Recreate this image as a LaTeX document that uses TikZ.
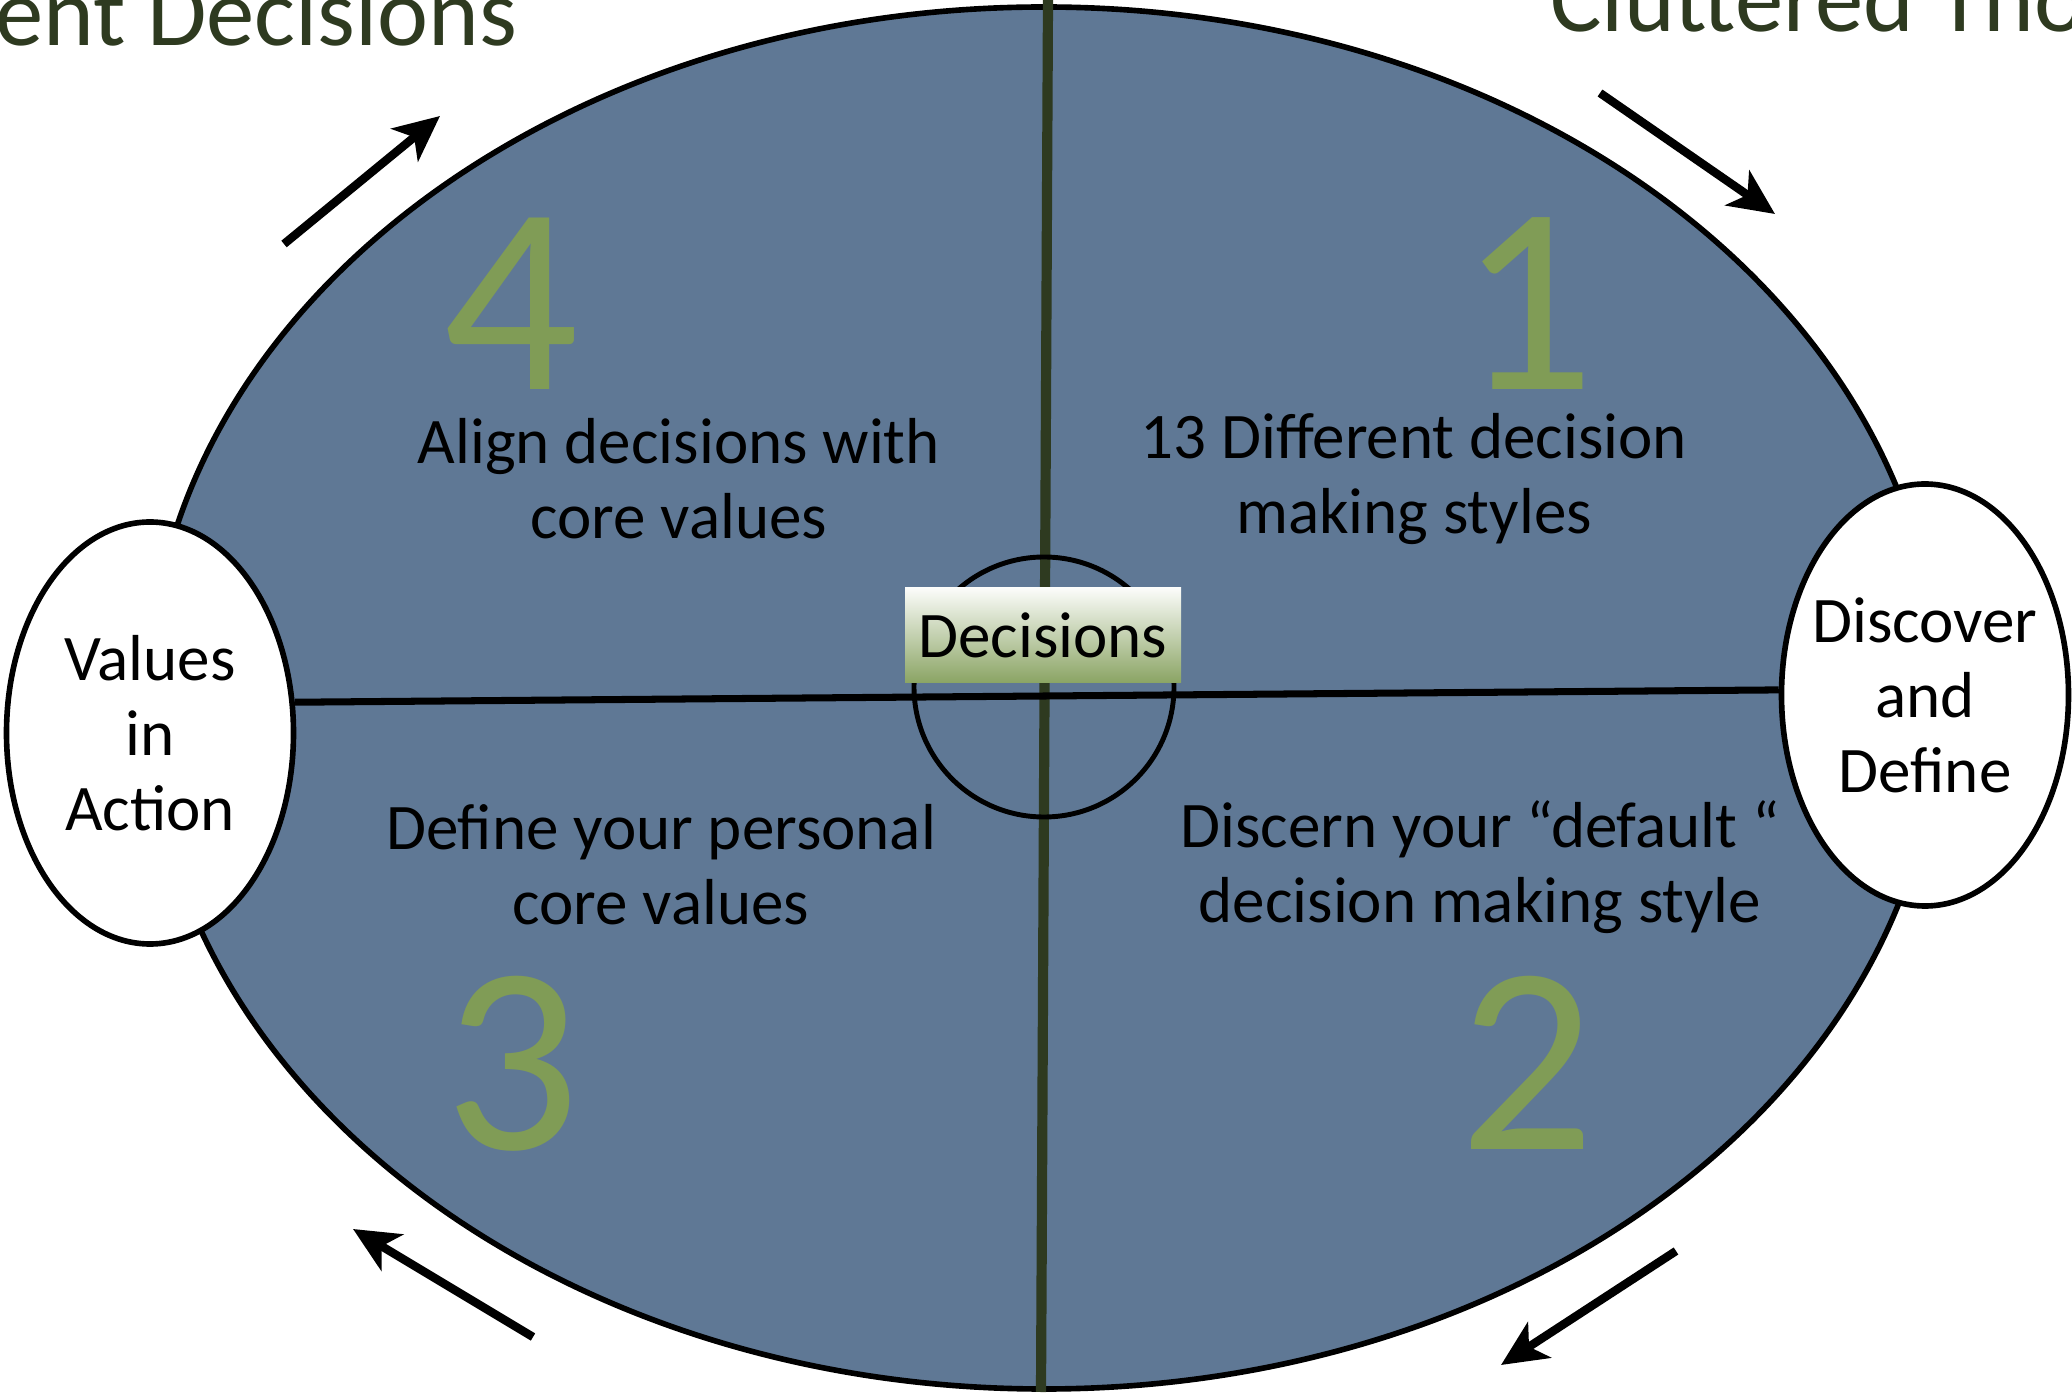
\documentclass[tikz,border=0pt]{standalone}
\usepackage{fontspec}
\setmainfont{Carlito}
\usetikzlibrary{arrows.meta,shapes.geometric,positioning}

\definecolor{slate}{RGB}{95,120,149}
\definecolor{leaf}{RGB}{128,156,86}
\definecolor{moss}{RGB}{46,58,32}

\tikzset{
  phase/.style={align=center, font=\fontsize{18.5}{21.3}\selectfont},
  bubble/.style={ellipse, draw, line width=1.6pt, fill=white, inner ysep=0pt,
    inner xsep=-0.14cm, minimum width=2.87cm, minimum height=4.22cm, phase},
  stepnum/.style={anchor=base, inner sep=0pt, text=leaf,
    font=\fontsize{76}{76}\selectfont},
  heading/.style={inner sep=0pt, text=moss, font=\fontsize{27.5}{30}\selectfont},
  flow/.style={->, line width=2.4pt}
}

\begin{document}
\begin{tikzpicture}[>={Stealth[length=13pt,width=12pt,inset=3.5pt]}, thick]
  \useasboundingbox (0,0) rectangle (20.72,-13.95);

  % the board and the two side bubbles
  \node (board) [ellipse, draw, line width=1.6pt, fill=slate,
    minimum width=17.9cm, minimum height=13.82cm] at (10.44,-6.98) {};
  \node (values)   [bubble] at (1.50,-7.33) {Values\\in\\Action};
  \node (discover) [bubble] at (19.25,-6.95) {Discover\\and\\Define};

  % cross lines and the hub
  \coordinate (vtop) at (10.48,0);
  \coordinate (vbot) at (10.41,-13.92);
  \draw[moss, line width=2.9pt] (vtop) -- (vbot);
  \node (hub) [circle, draw, line width=1.4pt, minimum size=2.6cm] at (10.44,-6.87) {};
  \draw[line width=2pt] (values.12) -- (discover.178);
  \node (core) [draw=none, top color=white!97!leaf, bottom color=leaf!92!white,
    minimum width=2.76cm, minimum height=0.95cm, inner sep=0pt, phase]
    at (10.43,-6.355) {Decisions};

  % quadrants
  \node (n4) [stepnum] at (5.11,-3.90)  {4};
  \node (n1) [stepnum] at (15.27,-3.90) {1};
  \node (n3) [stepnum] at (5.12,-11.50) {3};
  \node (n2) [stepnum] at (15.27,-11.50) {2};
  \node (t4) [phase] at (6.79,-4.79)  {Align decisions with\\core values};
  \node (t1) [phase] at (14.14,-4.79) {13 Different decision\\making styles};
  \node (t3) [phase] at (6.61,-8.65)  {Define your personal\\core values};
  \node (t2) [phase] at (14.80,-8.67) {Discern your “default “\\decision making style};

  % cycle arrows
  \coordinate (tls) at (2.84,-2.44);   \coordinate (tle) at (4.40,-1.16);
  \coordinate (trs) at (16.00,-0.93);  \coordinate (tre) at (17.75,-2.14);
  \coordinate (brs) at (16.76,-12.51); \coordinate (bre) at (15.01,-13.65);
  \coordinate (bls) at (5.33,-13.37);  \coordinate (ble) at (3.53,-12.29);
  \draw[flow] (tls) -- (tle);
  \draw[flow] (trs) -- (tre);
  \draw[flow] (brs) -- (bre);
  \draw[flow] (bls) -- (ble);

  % slide titles, cut by the edge
  \node (left title)  [heading, anchor=base east] at (5.19,-0.46)  {ent Decisions};
  \node (right title) [heading, anchor=base west] at (15.49,-0.32) {Cluttered Tho};
\end{tikzpicture}
\end{document}
